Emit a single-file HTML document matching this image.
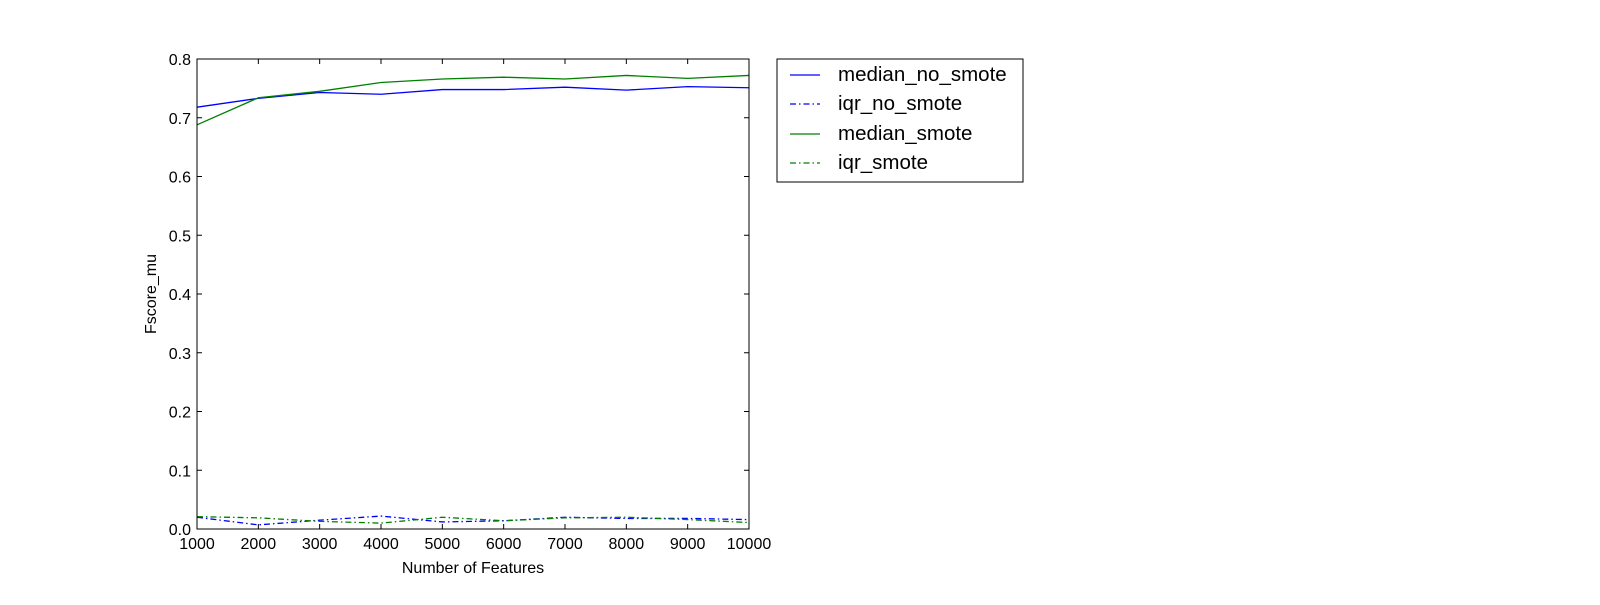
<!DOCTYPE html>
<html><head><meta charset="utf-8"><style>
body{margin:0;background:#fff;}
svg text{font-family:"Liberation Sans","DejaVu Sans",sans-serif;}
</style></head><body>
<svg id="chart" width="1600" height="600" xmlns="http://www.w3.org/2000/svg">
<rect x="0" y="0" width="1600" height="600" fill="#fff"/>
<g id="marks"></g>
<g id="axes"></g>
<text x="473" y="573" font-size="16" text-anchor="middle">Number of Features</text>
<text transform="translate(156,294) rotate(-90)" font-size="16" text-anchor="middle">Fscore_mu</text>
<g>
<rect x="777" y="59" width="246" height="123" fill="#fff" stroke="#000" stroke-width="1"/>
<g><line x1="790" y1="75" x2="820" y2="75" stroke="#0000ff" stroke-width="1.3"/><text x="838" y="81" font-size="20.5">median_no_smote</text></g>
<g><line x1="790" y1="104" x2="820" y2="104" stroke="#0000ff" stroke-width="1.3" stroke-dasharray="6,3,1.5,3"/><text x="838" y="110" font-size="20.5">iqr_no_smote</text></g>
<g><line x1="790" y1="134" x2="820" y2="134" stroke="#008000" stroke-width="1.3"/><text x="838" y="140" font-size="20.5">median_smote</text></g>
<g><line x1="790" y1="163" x2="820" y2="163" stroke="#008000" stroke-width="1.3" stroke-dasharray="6,3,1.5,3"/><text x="838" y="169" font-size="20.5">iqr_smote</text></g>
</g>
</svg>
<script>
const features = [1000,2000,3000,4000,5000,6000,7000,8000,9000,10000];
const medianNoSmote = [0.718,0.733,0.743,0.740,0.748,0.748,0.752,0.747,0.753,0.751];
const iqrNoSmote = [0.020,0.007,0.015,0.022,0.012,0.014,0.020,0.018,0.018,0.016];
const medianSmote = [0.688,0.734,0.745,0.760,0.766,0.769,0.766,0.772,0.767,0.772];
const iqrSmote = [0.021,0.019,0.013,0.010,0.020,0.014,0.019,0.020,0.016,0.011];
const xTicks = [1000,2000,3000,4000,5000,6000,7000,8000,9000,10000];
const yTicks = [0,0.1,0.2,0.3,0.4,0.5,0.6,0.7,0.8];

const L=197,R=749,T=59,B=529;
const xs=v=>L+(v-1000)/9000*(R-L);
const ys=v=>B-v/0.8*(B-T);
const NS="http://www.w3.org/2000/svg";
const marks=document.getElementById('marks'), axes=document.getElementById('axes');
function mk(tag,attrs,parent){const e=document.createElementNS(NS,tag);for(const k in attrs)e.setAttribute(k,attrs[k]);parent.appendChild(e);return e;}
function series(vals,color,dash,name){
  const p=mk('polyline',{points:vals.map((v,i)=>xs(features[i])+','+ys(v)).join(' '),fill:'none',stroke:color,'stroke-width':1.3},marks);
  if(dash)p.setAttribute('stroke-dasharray','6,3,1.5,3');
  
  
}
series(medianNoSmote,'#0000ff',false,'median-no-smote-line');
series(iqrNoSmote,'#0000ff',true,'iqr-no-smote-line');
series(medianSmote,'#008000',false,'median-smote-line');
series(iqrSmote,'#008000',true,'iqr-smote-line');

const frame=mk('rect',{x:L,y:T,width:R-L,height:B-T,fill:'none',stroke:'#000','stroke-width':1},axes);


xTicks.forEach(t=>{
  const x=xs(t);
  mk('line',{x1:x,y1:B,x2:x,y2:B-5,stroke:'#000'},axes);
  mk('line',{x1:x,y1:T,x2:x,y2:T+5,stroke:'#000'},axes);
  const tx=mk('text',{x:x,y:B+20,'font-size':16,'text-anchor':'middle'},axes);
  tx.textContent=t;
  
  
});
yTicks.forEach(t=>{
  const y=ys(t);
  mk('line',{x1:L,y1:y,x2:L+5,y2:y,stroke:'#000'},axes);
  mk('line',{x1:R,y1:y,x2:R-5,y2:y,stroke:'#000'},axes);
  const tx=mk('text',{x:L-6,y:y+6,'font-size':16,'text-anchor':'end'},axes);
  tx.textContent=t.toFixed(1);
  
  
});
</script>
</body></html>
